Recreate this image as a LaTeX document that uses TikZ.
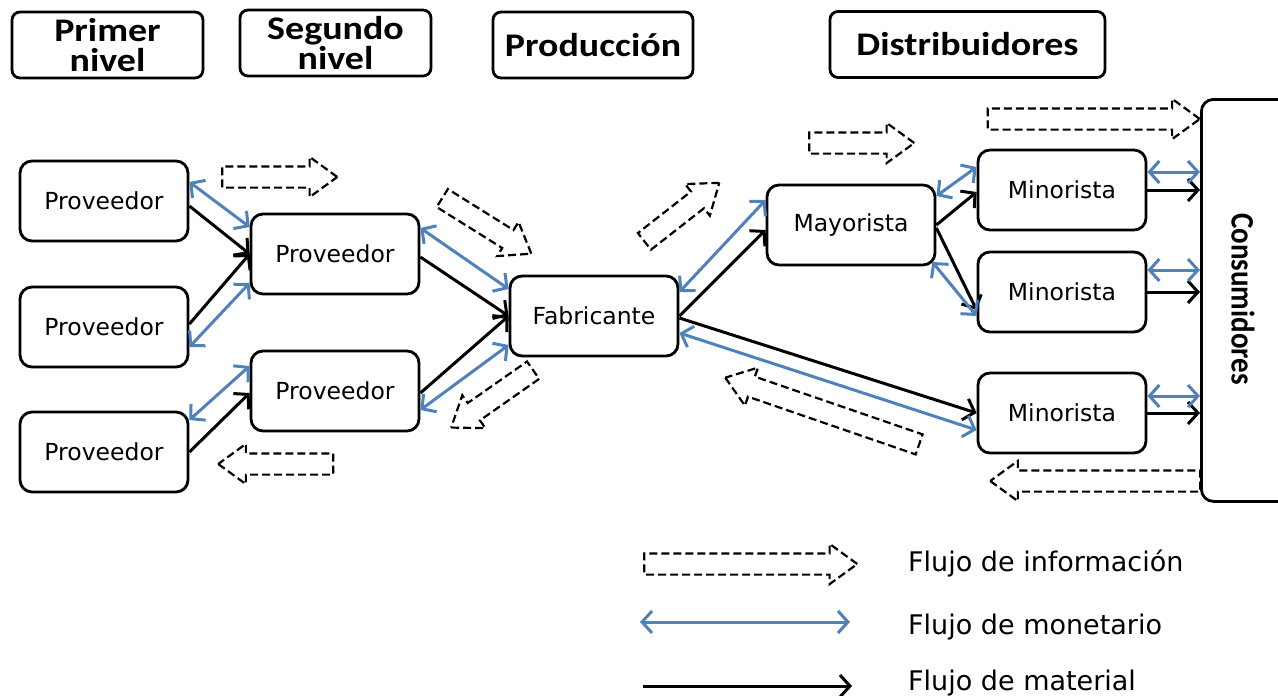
\documentclass[tikz,border=0pt]{standalone}
\usepackage{fontspec}
\usetikzlibrary{arrows.meta,shapes.arrows,calc}
\newfontfamily\hdrfont{Carlito}[FakeStretch=1.15]
\newfontfamily\consfont{Carlito}
\newfontfamily\nodefont{DejaVu Sans}
\definecolor{monblue}{RGB}{79,129,189}
\begin{document}
\begin{tikzpicture}[x=1pt,y=-1pt,
  hdr/.style={draw, line width=2.8pt, rounded corners=8pt, minimum width=#1, minimum height=66pt, inner sep=0pt, align=center, font=\hdrfont\bfseries\fontsize{33}{30}\selectfont},
  box/.style={draw, line width=2.8pt, rounded corners=12pt, minimum width=168pt, minimum height=80pt, inner sep=0pt, font=\nodefont\fontsize{23.5}{28}\selectfont},
  tipb/.tip={Straight Barb[length=10pt,width=22pt]},
  mat/.style={line width=3pt, -tipb},
  mon/.style={line width=3pt, draw=monblue, tipb-tipb},
  info/.style={draw, line width=2.2pt, dash pattern=on 8pt off 4pt, single arrow, single arrow head extend=9.5pt, single arrow tip angle=72, inner xsep=0pt, inner ysep=9.5pt, minimum width=38pt, minimum height=#1},
  legtext/.style={anchor=base west, inner sep=0pt, font=\nodefont\fontsize{27}{30}\selectfont}
]
\useasboundingbox (0,0) rectangle (1278,696);

% headers
\node[hdr=191pt] (h1) at (107.5,45) {Primer\\nivel};
\node[hdr=191pt] (h2) at (335.5,43) {Segundo\\nivel};
\node[hdr=200pt] (h3) at (593,45) {Producción};
\node[hdr=275pt] (h4) at (967.5,44.5) {Distribuidores};

% nodes
\node[box] (p1) at (104,201) {Proveedor};
\node[box] (p2) at (104,327) {Proveedor};
\node[box] (p3) at (104,452) {Proveedor};
\node[box] (p4) at (335,254) {Proveedor};
\node[box] (p5) at (335,391) {Proveedor};
\node[box] (fab) at (594,316) {Fabricante};
\node[box] (may) at (851,225) {Mayorista};
\node[box] (m1) at (1062,190) {Minorista};
\node[box] (m2) at (1062,292) {Minorista};
\node[box] (m3) at (1062,413) {Minorista};
\node[draw, line width=2.8pt, rounded corners=12pt, minimum width=130pt, minimum height=402pt, anchor=north west, inner sep=0pt] (cons) at (1200,98) {};
\node[rotate=-90, inner sep=0pt, font=\consfont\bfseries\fontsize{29}{30}\selectfont] (constext) at (1243,299) {\scalebox{1}[1.13]{Consumidores}};

% material flow
\draw[mat] ([yshift=-5pt]p1.east) -- (p4.west);
\draw[mat] ([yshift=3pt]p2.east) -- (p4.west);
\draw[mat] (p3.east) -- ([yshift=-2pt]p5.west);
\draw[mat] ([yshift=-3pt]p4.east) -- (fab.west);
\draw[mat] ([yshift=-2pt]p5.east) -- (fab.west);
\draw[mat] (fab.east) -- ([yshift=-5pt]may.west);
\draw[mat] ([yshift=-2pt]fab.east) -- (m3.west);
\draw[mat] (may.east) -- ([yshift=-2pt]m1.west);
\draw[mat] ([yshift=-3pt]may.east) -- ([yshift=-18pt]m2.west);
\draw[mat] (m1.east) -- (m1.east -| cons.west);
\draw[mat] (m2.east) -- (m2.east -| cons.west);
\draw[mat] (m3.east) -- (m3.east -| cons.west);

% monetary flow
\draw[mon] ([yshift=19pt]p1.east) -- ([yshift=27pt]p4.west);
\draw[mon] ([yshift=-20pt]p2.east) -- ([yshift=-29pt]p4.west);
\draw[mon] ([yshift=32pt]p3.east) -- ([yshift=25pt]p5.west);
\draw[mon] ([yshift=26pt]p4.east) -- ([yshift=27pt]fab.west);
\draw[mon] ([yshift=-19pt]p5.east) -- ([yshift=-29pt]fab.west);
\draw[mon] ([yshift=24pt]fab.east) -- ([yshift=25pt]may.west);
\draw[mon] ([yshift=-17pt]fab.east) -- ([yshift=-17pt]m3.west);
\draw[mon] ([yshift=29pt]may.east) -- ([yshift=23pt]m1.west);
\draw[mon] ([xshift=-4pt,yshift=-37pt]may.east) -- ([yshift=-24pt]m2.west);
\coordinate (c1) at ([yshift=18pt]m1.east);
\coordinate (c2) at ([yshift=22pt]m2.east);
\coordinate (c3) at ([yshift=17pt]m3.east);
\draw[mon] (c1) -- (c1 -| cons.west);
\draw[mon] (c2) -- (c2 -| cons.west);
\draw[mon] (c3) -- (c3 -| cons.west);

% information flow
\node[info=115pt] (i1) at (272.5,177) {};
\node[info=105pt, rotate=-32] (i2) at (480.6,222) {};
\node[info=100pt, rotate=-145] (i3) at (498.1,394.7) {};
\node[info=115pt, rotate=180] (i4) at (283,464) {};
\node[info=95pt, rotate=38] (i5) at (676.1,216.6) {};
\node[info=105pt] (i6) at (854.5,143) {};
\node[info=212pt] (i7) at (1086.5,119) {};
\node[info=205pt, rotate=161] (i8) at (829.1,413.4) {};
\node[info=210pt, rotate=180] (i9) at (1102.5,481) {};

% legend
\node[info=213pt] (i10) at (743.5,564) {};
\coordinate (l1a) at (640,622);
\coordinate (l1b) at (850,622);
\coordinate (l2a) at (643,686);
\coordinate (l2b) at (852,686);
\draw[mon] (l1a) -- (l1b);
\draw[mat] (l2a) -- (l2b);
\node[legtext] (t1) at (908,571) {Flujo de información};
\node[legtext] (t2) at (908,634) {Flujo de monetario};
\node[legtext] (t3) at (908,690) {Flujo de material};
\end{tikzpicture}
\end{document}
